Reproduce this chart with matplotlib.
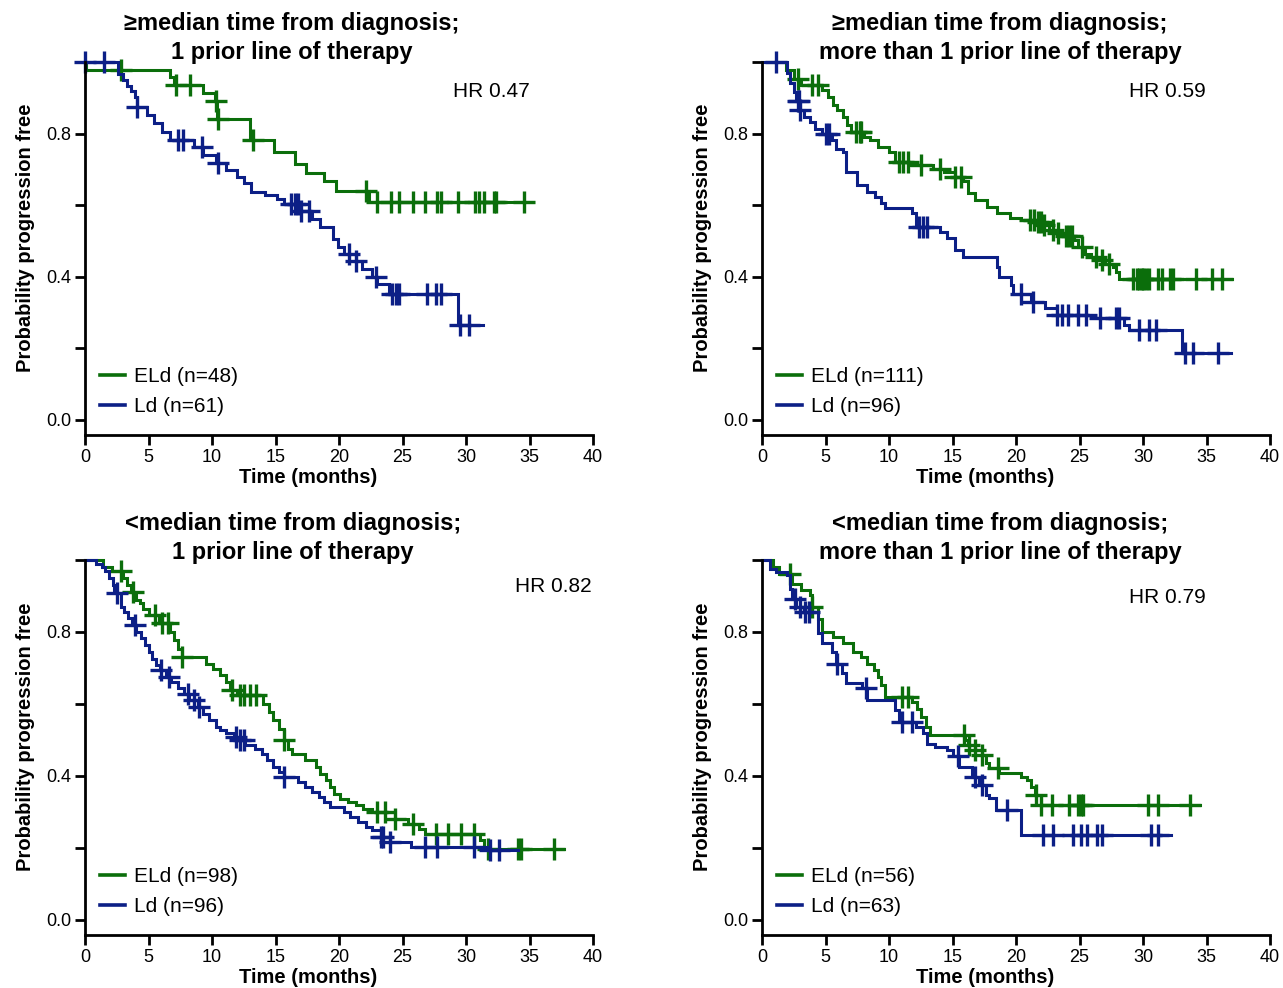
import numpy as np
import matplotlib.pyplot as plt

plt.rcParams['font.family'] = ['Liberation Sans', 'DejaVu Sans']

GREEN = '#0b6e0b'
BLUE = '#0c1f86'

# ---- panel titles / labels ----
titles = ['\u2265median time from diagnosis;\n1 prior line of therapy',
          '\u2265median time from diagnosis;\nmore than 1 prior line of therapy',
          '<median time from diagnosis;\n1 prior line of therapy',
          '<median time from diagnosis;\nmore than 1 prior line of therapy']
hr_labels = ['HR 0.47', 'HR 0.59', 'HR 0.82', 'HR 0.79']
eld_labels = ['ELd (n=48)', 'ELd (n=111)', 'ELd (n=98)', 'ELd (n=56)']
ld_labels = ['Ld (n=61)', 'Ld (n=96)', 'Ld (n=96)', 'Ld (n=63)']

# ---- top left: >median, 1 prior line ----
tl_eld_t = [0.1, 6.7, 7.0, 9.3, 10.2, 10.4, 13.0, 14.9, 16.5, 17.4, 18.8, 19.8, 22.4]
tl_eld_s = [0.979, 0.958, 0.937, 0.914, 0.89, 0.842, 0.781, 0.749, 0.716, 0.690, 0.668, 0.641, 0.609]
tl_eld_c = [2.8, 7.2, 8.3, 10.3, 10.5, 13.2, 22.1, 23.0, 24.1, 24.7, 25.8, 26.8, 27.7, 28.0,
            29.4, 30.7, 31.0, 31.4, 32.2, 32.4, 34.6]
tl_eld_end = 35.3
tl_ld_t = [2.6, 3.0, 3.3, 3.6, 3.9, 4.1, 4.9, 5.45, 6.1, 6.7, 8.6, 9.3, 10.3, 11.1, 12.0, 12.5,
           13.1, 14.2, 15.1, 15.7, 16.9, 17.9, 18.5, 19.5, 19.9, 20.4, 21.3, 21.8, 22.6, 23.0,
           23.9, 29.4]
tl_ld_s = [0.967, 0.951, 0.934, 0.918, 0.902, 0.875, 0.852, 0.829, 0.805, 0.782, 0.762, 0.741,
           0.717, 0.698, 0.680, 0.662, 0.638, 0.628, 0.618, 0.604, 0.585, 0.562, 0.539, 0.506,
           0.483, 0.464, 0.445, 0.422, 0.399, 0.380, 0.352, 0.264]
tl_ld_c = [0.0, 1.5, 4.1, 7.3, 7.7, 9.2, 10.5, 16.2, 16.5, 16.8, 17.0, 17.6, 20.8, 21.3, 22.9,
           24.2, 24.5, 24.7, 26.9, 27.6, 28.0, 29.5, 30.2]
tl_ld_end = 31.3

# ---- top right: >median, >1 prior line ----
tr_eld_t = [1.9, 2.5, 3.1, 4.7, 5.2, 5.6, 5.9, 6.4, 6.7, 7.0, 8.0, 8.5, 9.1, 10.0, 10.5, 11.7,
            13.5, 14.3, 15.2, 15.8, 16.2, 16.8, 17.7, 18.5, 19.5, 20.4, 21.5, 22.1, 22.6, 23.1,
            23.7, 24.6, 24.9, 25.4, 25.9, 26.5, 27.0, 27.6, 27.9, 28.1]
tr_eld_s = [0.977, 0.953, 0.935, 0.921, 0.902, 0.879, 0.865, 0.847, 0.823, 0.805, 0.791, 0.781,
            0.763, 0.749, 0.721, 0.712, 0.702, 0.693, 0.679, 0.667, 0.633, 0.614, 0.595, 0.577,
            0.563, 0.558, 0.553, 0.544, 0.530, 0.521, 0.514, 0.502, 0.484, 0.465, 0.456, 0.447,
            0.437, 0.428, 0.414, 0.395]
tr_eld_c = [2.8, 3.9, 4.4, 7.4, 7.7, 7.8, 10.8, 11.1, 11.5, 12.5, 14.0, 15.2, 15.7, 21.1, 21.4,
            21.7, 22.0, 22.2, 22.9, 23.3, 23.9, 24.2, 24.4, 25.2, 26.3, 26.8, 27.3, 29.2, 29.5,
            29.7, 29.9, 30.0, 30.2, 30.5, 31.2, 31.5, 32.1, 32.4, 34.2, 35.4, 36.2]
tr_eld_end = 37.0
tr_ld_t = [2.0, 2.2, 2.5, 2.7, 3.0, 3.3, 3.8, 4.2, 4.7, 5.5, 5.8, 6.4, 6.6, 7.5, 8.3, 8.9, 9.4,
           9.7, 11.8, 12.1, 14.0, 14.6, 15.2, 15.8, 18.5, 18.7, 19.6, 19.8, 21.2, 22.3, 23.2,
           25.9, 28.5, 28.9, 33.1]
tr_ld_s = [0.97, 0.94, 0.915, 0.89, 0.865, 0.847, 0.833, 0.814, 0.80, 0.781, 0.758, 0.749,
           0.693, 0.656, 0.637, 0.623, 0.605, 0.591, 0.577, 0.54, 0.526, 0.507, 0.474, 0.456,
           0.428, 0.40, 0.377, 0.353, 0.33, 0.312, 0.293, 0.284, 0.265, 0.251, 0.186]
tr_ld_c = [1.1, 2.8, 2.9, 3.0, 5.0, 5.3, 12.4, 12.7, 13.0, 20.4, 21.3, 23.2, 23.6, 24.1, 24.9,
           25.5, 26.6, 27.9, 28.1, 29.7, 30.5, 31.0, 33.3, 33.9, 35.9]
tr_ld_end = 36.9

# ---- bottom left: <median, 1 prior line ----
bl_eld_t = [1.4, 2.1, 3.0, 3.3, 3.6, 4.0, 4.3, 4.6, 5.0, 5.8, 6.7, 7.0, 7.3, 7.6, 9.5, 10.1,
            10.6, 11.1, 11.4, 12.0, 14.0, 14.5, 14.8, 15.3, 15.7, 16.0, 16.3, 17.3, 18.2, 18.5,
            19.0, 19.3, 19.6, 20.1, 20.7, 21.3, 21.9, 22.6, 24.4, 25.4, 26.3, 26.8, 31.1, 31.4]
bl_eld_s = [0.98, 0.97, 0.95, 0.93, 0.91, 0.89, 0.88, 0.865, 0.847, 0.824, 0.80, 0.777, 0.754,
            0.731, 0.712, 0.698, 0.68, 0.661, 0.638, 0.624, 0.601, 0.578, 0.555, 0.531, 0.499,
            0.476, 0.462, 0.443, 0.425, 0.406, 0.388, 0.369, 0.351, 0.337, 0.327, 0.318, 0.309,
            0.30, 0.281, 0.267, 0.253, 0.239, 0.221, 0.198]
bl_eld_c = [2.8, 3.8, 5.5, 6.1, 6.5, 7.6, 11.6, 12.2, 12.5, 13.0, 13.5, 15.7, 23.0, 23.6, 24.4,
            25.8, 27.6, 28.6, 29.6, 30.6, 31.7, 34.1, 34.3, 36.9]
bl_eld_end = 37.7
bl_ld_t = [0.9, 1.3, 1.6, 1.9, 2.2, 2.3, 2.8, 3.1, 3.4, 3.7, 4.0, 4.4, 4.7, 5.0, 5.3, 5.6, 5.9,
           6.4, 6.8, 7.3, 7.8, 8.2, 8.9, 9.3, 9.8, 10.3, 10.6, 11.1, 11.7, 12.1, 12.6, 13.4,
           13.9, 14.3, 14.8, 15.3, 15.7, 16.8, 17.3, 17.9, 18.4, 18.8, 19.3, 20.4, 20.9, 21.5,
           22.1, 22.6, 23.3, 24.0, 25.7, 31.9]
bl_ld_s = [0.99, 0.98, 0.97, 0.95, 0.93, 0.907, 0.87, 0.856, 0.838, 0.819, 0.80, 0.782, 0.763,
           0.745, 0.726, 0.708, 0.694, 0.675, 0.661, 0.643, 0.629, 0.61, 0.592, 0.573, 0.555,
           0.536, 0.527, 0.518, 0.508, 0.499, 0.485, 0.476, 0.462, 0.443, 0.425, 0.411, 0.397,
           0.383, 0.369, 0.355, 0.341, 0.327, 0.314, 0.30, 0.286, 0.272, 0.258, 0.249, 0.23,
           0.216, 0.202, 0.193]
bl_ld_c = [2.5, 3.9, 6.0, 6.6, 8.1, 8.6, 9.0, 11.9, 12.2, 12.5, 15.7, 23.3, 23.5, 24.0, 26.8,
           27.7, 30.6, 31.9, 32.6]
bl_ld_end = 34.1

# ---- bottom right: <median, >1 prior line ----
br_eld_t = [0.9, 1.3, 2.4, 3.1, 3.8, 3.9, 4.4, 4.7, 5.6, 6.4, 7.2, 7.8, 8.3, 8.8, 9.1, 9.4, 9.7,
            11.8, 12.2, 12.5, 12.9, 13.2, 16.0, 16.2, 16.8, 17.3, 17.6, 17.9, 18.7, 20.4, 20.9,
            21.2, 21.5, 22.0]
br_eld_s = [0.98, 0.962, 0.934, 0.916, 0.902, 0.87, 0.837, 0.80, 0.786, 0.768, 0.745, 0.731,
            0.712, 0.694, 0.675, 0.652, 0.62, 0.606, 0.587, 0.564, 0.537, 0.513, 0.50, 0.486,
            0.472, 0.458, 0.435, 0.421, 0.407, 0.398, 0.389, 0.37, 0.347, 0.319]
br_eld_c = [2.2, 3.9, 11.0, 11.5, 15.9, 16.3, 16.8, 17.3, 18.6, 21.6, 22.0, 22.8, 24.2, 24.9,
            25.1, 25.3, 30.4, 31.2, 33.7]
br_eld_end = 34.5
br_ld_t = [0.6, 1.1, 2.0, 2.2, 2.4, 2.7, 3.3, 4.4, 4.7, 5.5, 5.8, 6.3, 6.6, 7.9, 8.3, 10.5, 10.8,
           12.1, 12.7, 13.0, 13.6, 14.6, 15.0, 15.5, 16.5, 17.1, 17.6, 17.9, 18.4, 20.4]
br_ld_s = [0.975, 0.967, 0.958, 0.92, 0.893, 0.87, 0.856, 0.796, 0.768, 0.745, 0.712, 0.685,
           0.657, 0.643, 0.611, 0.583, 0.55, 0.537, 0.518, 0.49, 0.481, 0.472, 0.455, 0.426,
           0.398, 0.375, 0.347, 0.338, 0.305, 0.236]
br_ld_c = [2.6, 3.0, 3.4, 3.7, 5.9, 8.2, 11.0, 11.8, 15.4, 16.8, 17.3, 19.3, 22.1, 22.9, 24.5,
           25.1, 25.6, 26.4, 26.8, 30.6, 31.2]
br_ld_end = 32.2

panels = [
    ((tl_eld_t, tl_eld_s, tl_eld_c, tl_eld_end), (tl_ld_t, tl_ld_s, tl_ld_c, tl_ld_end)),
    ((tr_eld_t, tr_eld_s, tr_eld_c, tr_eld_end), (tr_ld_t, tr_ld_s, tr_ld_c, tr_ld_end)),
    ((bl_eld_t, bl_eld_s, bl_eld_c, bl_eld_end), (bl_ld_t, bl_ld_s, bl_ld_c, bl_ld_end)),
    ((br_eld_t, br_eld_s, br_eld_c, br_eld_end), (br_ld_t, br_ld_s, br_ld_c, br_ld_end)),
]

# layout in pixels (fig is 1283 x 988)
W, H = 1283, 988
ax_boxes = [(85, 62, 593, 435), (762, 62, 1270, 435),
            (85, 560, 593, 935), (762, 560, 1270, 935)]
title_pos = [(292, 38), (1000, 38), (293, 538), (1000, 538)]
hr_pos = [(0.80, 0.922), (0.797, 0.922), (0.921, 0.928), (0.797, 0.899)]


def km_curve(ax, t, s, cens, end, color):
    t = np.asarray(t)
    s = np.asarray(s)
    x = np.r_[0, t, end]
    y = np.r_[1.0, s, s[-1]]
    ax.step(x, y, where='post', color=color, lw=2.2, clip_on=False, solid_joinstyle='miter')
    # censor ticks sit on the curve
    idx = np.searchsorted(t, cens, side='right')
    yc = np.r_[1.0, s][idx]
    ax.plot(cens, yc, ls='none', marker='+', ms=16, mew=2.4, color=color, clip_on=False)
    return ax.plot([], [], color=color, lw=2.6)[0]


fig = plt.figure(figsize=(W / 100, H / 100), dpi=100)

for i, (eld, ld) in enumerate(panels):
    l, t, r, b = ax_boxes[i]
    ax = fig.add_axes([l / W, 1 - b / H, (r - l) / W, (b - t) / H])
    h1 = km_curve(ax, *eld, GREEN)
    h2 = km_curve(ax, *ld, BLUE)

    ax.set_xlim(0, 40)
    ax.set_ylim(-0.042, 1.0)
    ax.set_xticks(np.arange(0, 41, 5))
    ax.set_yticks([0, 0.2, 0.4, 0.6, 0.8, 1.0])
    ax.set_yticklabels(['0.0', '', '0.4', '', '0.8', ''])
    for sp in ['top', 'right']:
        ax.spines[sp].set_visible(False)
    for sp in ['left', 'bottom']:
        ax.spines[sp].set_linewidth(2.0)
    ax.tick_params(direction='out', length=7, width=2.0, labelsize=13, pad=3)

    ax.set_xlabel('Time (months)', fontsize=14.5, fontweight='bold')
    ax.xaxis.set_label_coords(0.439, -0.113)
    ax.xaxis.label.set_va('center')
    ax.set_ylabel('Probability progression free', fontsize=14.5, fontweight='bold')
    ax.yaxis.set_label_coords(-0.118, 0.53)
    ax.yaxis.label.set_va('center')

    ax.text(hr_pos[i][0], hr_pos[i][1], hr_labels[i], transform=ax.transAxes,
            ha='center', va='center', fontsize=15)

    ax.legend([h1, h2], [eld_labels[i], ld_labels[i]], loc='lower left',
              bbox_to_anchor=(0.029, 0.05), frameon=False, fontsize=15,
              handlelength=1.2, handletextpad=0.45, labelspacing=0.55,
              borderpad=0, borderaxespad=0)

    tx, ty = title_pos[i]
    fig.text(tx / W, 1 - ty / H, titles[i], ha='center', va='center',
             fontsize=17, fontweight='bold', linespacing=1.3)

fig.savefig('out.png', dpi=100)
